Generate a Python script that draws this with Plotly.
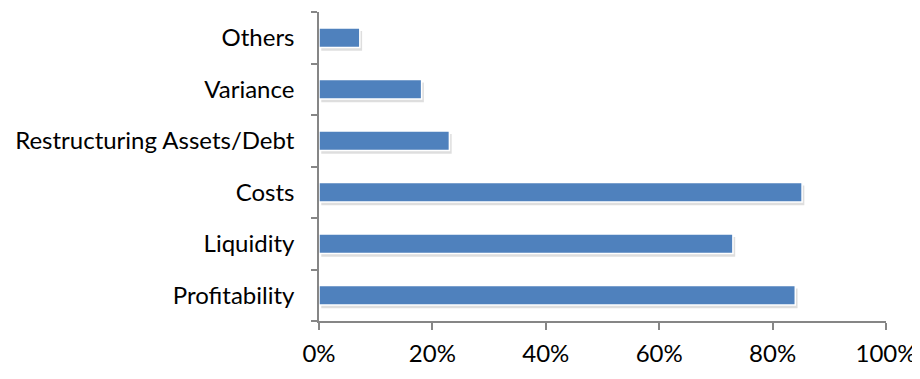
import plotly.graph_objects as go

categories = ["Profitability", "Liquidity", "Costs", "Restructuring Assets/Debt", "Variance", "Others"]
values = [0.84, 0.73, 0.852, 0.23, 0.181, 0.072]
x_ticks = [0, 0.2, 0.4, 0.6, 0.8, 1.0]
x_tick_labels = ["0%", "20%", "40%", "60%", "80%", "100%"]

BAR_W = 0.38

fig = go.Figure()
# soft drop shadow (same data, styled offset)
fig.add_trace(go.Bar(
    y=categories, x=values, orientation="h",
    marker=dict(color="rgba(0,0,0,0.13)", line=dict(width=0)),
    width=BAR_W, offset=-BAR_W / 2 - 0.06, base=0.004,
    hoverinfo="skip",
))
fig.add_trace(go.Bar(
    y=categories, x=values, orientation="h",
    marker=dict(color="#4F81BD", line=dict(color="white", width=1.5)),
    width=BAR_W,
    hoverinfo="x+y",
))

axis_color = "#868686"
fig.update_layout(
    width=912, height=371,
    barmode="overlay",
    margin=dict(l=311, r=34, t=4, b=58, autoexpand=False),
    paper_bgcolor="white", plot_bgcolor="white",
    showlegend=False,
    font=dict(family="Lato, Open Sans, sans-serif", size=24, color="#000000"),
    xaxis=dict(
        range=[0, 1.0], tickvals=x_ticks, ticktext=x_tick_labels,
        showgrid=False, zeroline=False, automargin=False,
        showline=True, linecolor=axis_color, linewidth=1.5,
        ticks="outside", ticklen=7, tickcolor=axis_color, tickwidth=1.5,
        ticklabelstandoff=3,
    ),
    yaxis=dict(
        categoryorder="array", categoryarray=categories,
        range=[-0.5, 5.5], automargin=False,
        showgrid=False, zeroline=False,
        showline=True, linecolor=axis_color, linewidth=1.5,
        ticks="outside", ticklen=6, tickcolor=axis_color, tickwidth=1.5,
        tickson="boundaries",
        ticklabelstandoff=18,
    ),
)

fig.write_html("out.html")
